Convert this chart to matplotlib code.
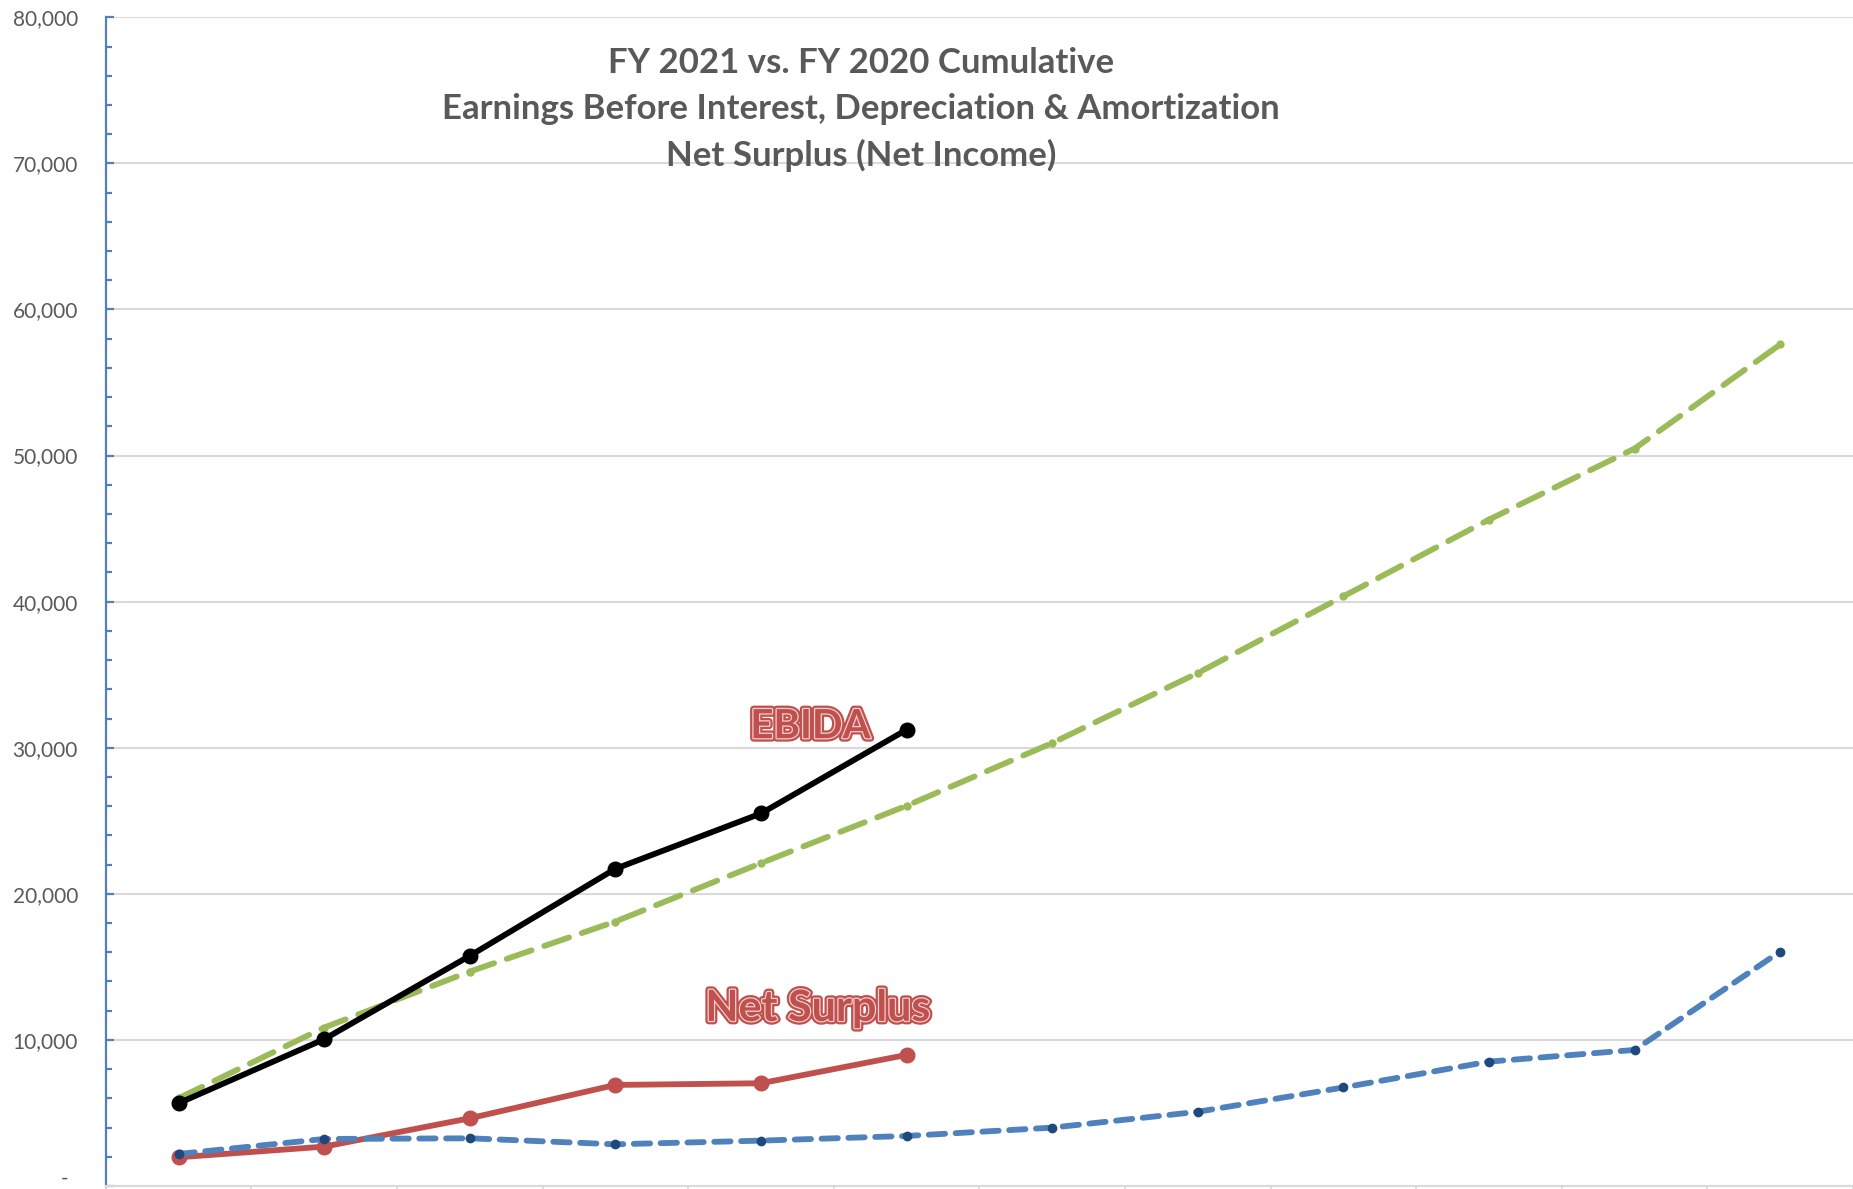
import numpy as np
import matplotlib
matplotlib.use('Agg')
import matplotlib.pyplot as plt
import matplotlib.patheffects as pe
from matplotlib.ticker import MultipleLocator, FuncFormatter

# cumulative values, 12 periods (FY 2021 only has 6 so far)
periods = list(range(12))
ebida_fy2021 = [5664, 10048, 15753, 21712, 25500, 31233]
ebida_fy2020 = [6007, 10843, 14678, 18103, 22100, 26027, 30322, 35116, 40363, 45616, 50479, 57603]
surplus_fy2021 = [1966, 2694, 4635, 6918, 7032, 8973]
surplus_fy2020 = [2192, 3219, 3265, 2854, 3105, 3425, 3995, 5080, 6745, 8514, 9315, 16048]

title_lines = ['FY 2021 vs. FY 2020 Cumulative',
               'Earnings Before Interest, Depreciation & Amortization',
               'Net Surplus (Net Income)']

W, H, DPI = 1853, 1189, 100
FONT = 'Lato'
GRAY_TXT = '#595959'
GRID = '#d9d9d9'
RED = '#c0504d'
GREEN = '#9bbb59'
BLUE = '#4f81bd'
NAVY = '#1f497d'

fig = plt.figure(figsize=[W / DPI, H / DPI], dpi=DPI)
ax = fig.add_axes([105.7 / W, 3 / H, 1 - 105.7 / W, (1186 - 17.3) / H])

ax.plot(periods, ebida_fy2020, color=GREEN, lw=4.2, dashes=(4.5, 2.3),
        dash_capstyle='round', marker='o', ms=5, mec=GREEN, mfc=GREEN, zorder=3)
ax.plot(periods[:len(surplus_fy2021)], surplus_fy2021, color=RED, lw=4.2,
        marker='o', ms=10.5, mec=RED, mfc=RED, zorder=3)
ax.plot(periods, surplus_fy2020, color=BLUE, lw=4.2, dashes=(2.8, 1.8),
        dash_capstyle='round', marker='o', ms=6, mec=NAVY, mfc=NAVY, zorder=4)
ax.plot(periods[:len(ebida_fy2021)], ebida_fy2021, color='black', lw=4.2,
        marker='o', ms=10.5, mec='black', mfc='black', zorder=5)

ax.set_xlim(-0.5, 11.5)
ax.set_ylim(0, 80000)

# axes look (Excel style)
for s in ['top', 'right']:
    ax.spines[s].set_visible(False)
ax.spines['left'].set_color(BLUE)
ax.spines['left'].set_linewidth(1.6)
ax.spines['bottom'].set_color(GRID)
ax.spines['bottom'].set_linewidth(1.5)

ax.yaxis.set_major_locator(MultipleLocator(10000))
ax.yaxis.set_minor_locator(MultipleLocator(2000))
ax.yaxis.set_major_formatter(FuncFormatter(lambda v, p: '' if v == 0 else f'{v:,.0f}'))
ax.tick_params(axis='y', which='major', direction='in', length=6, width=1.6, color=BLUE,
               labelsize=15, labelcolor=GRAY_TXT, pad=20)
ax.tick_params(axis='y', which='minor', direction='in', length=4, width=1.6, color=BLUE)
for lbl in ax.get_yticklabels():
    lbl.set_fontfamily(FONT)
# accounting-style zero label
fig.text(65 / W, 0, '-', ha='center', va='bottom', fontsize=15, color=GRAY_TXT, family=FONT)

ax.set_xticks(np.arange(-0.5, 12, 1))
ax.tick_params(axis='x', which='major', direction='out', length=4, width=1.2, color=GRID,
               labelbottom=False)
ax.grid(axis='y', which='major', color=GRID, lw=1.5, zorder=0)
ax.set_axisbelow(True)

for k, line in enumerate(title_lines):
    fig.text(861 / W, 1 - (63 + k * 46.3) / H, line, ha='center', va='center',
             fontsize=25, fontweight='bold', color=GRAY_TXT, family=FONT)

glow = [pe.Stroke(linewidth=5, foreground=RED), pe.Stroke(linewidth=1.8, foreground='#f2d0cf'), pe.Normal()]
ax.text(4.34, 31440, 'EBIDA', ha='center', va='center', fontsize=29, fontweight='bold',
        color=RED, family=FONT, path_effects=glow, zorder=6)
ax.text(4.39, 12190, 'Net Surplus', ha='center', va='center', fontsize=31, fontweight='bold',
        color=RED, family=FONT, path_effects=glow, zorder=6)

fig.savefig('out.png', dpi=DPI, facecolor='white')
